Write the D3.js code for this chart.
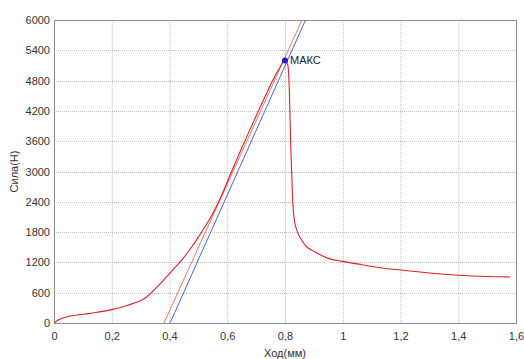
<!DOCTYPE html>
<html>
<head>
<meta charset="utf-8">
<script src="https://cdn.jsdelivr.net/npm/d3@7"></script>
<style>
  body { margin: 0; background: #fff; }
  text { font-family: "Liberation Sans", Arial, sans-serif; }
</style>
</head>
<body>
<div id="chart"></div>
<script>
// ход (мм) и сила (Н) по кривой испытания
const strokeMm = [0, 0.01, 0.02, 0.04, 0.06, 0.09, 0.12, 0.15, 0.2, 0.25, 0.28, 0.31, 0.33, 0.36, 0.4, 0.44, 0.47,
  0.5, 0.52, 0.55, 0.58, 0.61, 0.64, 0.67, 0.7, 0.73, 0.76, 0.78, 0.8,
  0.81, 0.815, 0.82, 0.826, 0.832, 0.845, 0.86, 0.875, 0.9, 0.95, 1.0,
  1.05, 1.1, 1.15, 1.2, 1.25, 1.3, 1.35, 1.4, 1.45, 1.5, 1.55, 1.58];
const forceN = [5, 40, 72, 115, 142, 165, 185, 212, 265, 340, 400, 470, 560, 730, 980, 1230, 1450,
  1700, 1880, 2170, 2520, 2930, 3330, 3720, 4100, 4470, 4830, 5040, 5200,
  5100, 4600, 3500, 2500, 2050, 1780, 1620, 1510, 1420, 1280, 1220,
  1170, 1120, 1080, 1050, 1020, 990, 965, 945, 930, 920, 915, 912];

// касательные линии (начало и конец)
const tangentRed = [[0.381, 0], [0.859, 6000]];
const tangentBlue = [[0.402, 0], [0.871, 6000]];

const maxPoint = { x: 0.8, y: 5200, label: "МАКС" };

const xTicks = [0, 0.2, 0.4, 0.6, 0.8, 1, 1.2, 1.4, 1.6];
const yTicks = [0, 600, 1200, 1800, 2400, 3000, 3600, 4200, 4800, 5400, 6000];

const W = 524, H = 359;
const margin = { top: 20, right: 8, bottom: 36, left: 54 },
      width = W - margin.left - margin.right,
      height = H - margin.top - margin.bottom;

const svg = d3.select("#chart")
  .append("svg")
  .attr("width", W)
  .attr("height", H);

const g = svg.append("g")
  .attr("transform", `translate(${margin.left},${margin.top})`);

const x = d3.scaleLinear().domain([0, 1.6]).range([0, width]);
const y = d3.scaleLinear().domain([0, 6000]).range([height, 0]);

svg.append("defs").append("clipPath").attr("id", "clip")
  .append("rect").attr("width", width).attr("height", height);

// сетка
g.append("g")
  .selectAll("line")
  .data(xTicks.slice(1, -1))
  .join("line")
  .attr("x1", d => x(d) + 0.5).attr("x2", d => x(d) + 0.5)
  .attr("y1", 0).attr("y2", height)
  .attr("stroke", "#bdbdbd")
  .attr("stroke-dasharray", "1,1");

g.append("g")
  .selectAll("line")
  .data(yTicks.slice(1, -1))
  .join("line")
  .attr("x1", 0).attr("x2", width)
  .attr("y1", d => Math.round(y(d)) + 0.5).attr("y2", d => Math.round(y(d)) + 0.5)
  .attr("stroke", "#bdbdbd")
  .attr("stroke-dasharray", "1,1");

// оси (только подписи)
const xAxis = g.append("g")
  .attr("transform", `translate(0,${height})`)
  .call(d3.axisBottom(x).tickValues(xTicks).tickSize(0).tickPadding(9)
    .tickFormat(d => String(d).replace(".", ",")));
xAxis.select(".domain").remove();
xAxis.selectAll("text").attr("font-size", 11).attr("fill", "#333");

const yAxis = g.append("g")
  .call(d3.axisLeft(y).tickValues(yTicks).tickSize(0).tickPadding(4)
    .tickFormat(d => String(d)));
yAxis.select(".domain").remove();
yAxis.selectAll("text").attr("font-size", 11).attr("fill", "#333");

// рамка
g.append("rect")
  .attr("x", 0.5).attr("y", 0.5)
  .attr("width", width).attr("height", height)
  .attr("fill", "none")
  .attr("stroke", "#8a8a8a");

const line = d3.line().x(d => x(d[0])).y(d => y(d[1]));

const plot = g.append("g").attr("clip-path", "url(#clip)");

plot.append("path")
  .datum(tangentRed)
  .attr("d", line)
  .attr("fill", "none")
  .attr("stroke", "#e47a62")
  .attr("stroke-width", 1);

plot.append("path")
  .datum(tangentBlue)
  .attr("d", line)
  .attr("fill", "none")
  .attr("stroke", "#4f63cf")
  .attr("stroke-width", 1);

plot.append("path")
  .datum(d3.zip(strokeMm, forceN))
  .attr("d", line.curve(d3.curveMonotoneX))
  .attr("fill", "none")
  .attr("stroke", "#d8232d")
  .attr("stroke-width", 1.1);

// точка максимума
g.append("circle")
  .attr("cx", x(maxPoint.x)).attr("cy", y(maxPoint.y))
  .attr("r", 3)
  .attr("fill", "#1a1adc");

g.append("text")
  .attr("x", x(maxPoint.x) + 5).attr("y", y(maxPoint.y) + 4)
  .attr("font-size", 11).attr("fill", "#222")
  .text(maxPoint.label);

// подписи осей
svg.append("text")
  .attr("x", margin.left + width / 2).attr("y", 357)
  .attr("text-anchor", "middle")
  .attr("font-size", 11).attr("fill", "#333")
  .text("Ход(мм)");

svg.append("text")
  .attr("transform", `translate(18,${margin.top + height / 2}) rotate(-90)`)
  .attr("text-anchor", "middle")
  .attr("font-size", 11).attr("fill", "#333")
  .text("Сила(Н)");
</script>
</body>
</html>
